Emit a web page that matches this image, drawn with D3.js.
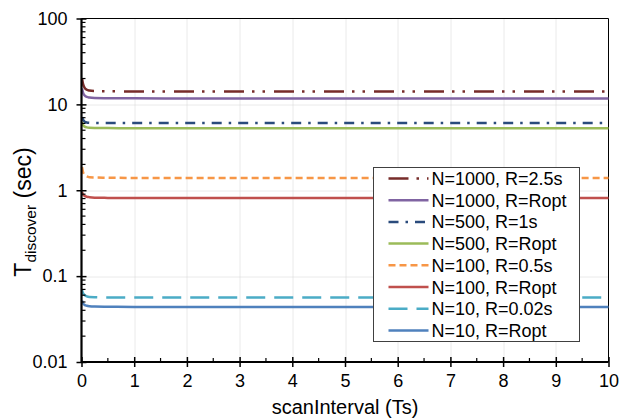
<!DOCTYPE html>
<html>
<head>
<meta charset="utf-8">
<script src="https://cdn.jsdelivr.net/npm/d3@7"></script>
<style>
  html, body { margin: 0; padding: 0; background: #fff; }
  svg { display: block; font-family: "Liberation Sans", Arial, sans-serif; }
</style>
</head>
<body>
<div id="chart"></div>
<script>
// scanInterval (Ts) sample points
const scanIntervals = [0.01, 0.03, 0.06, 0.1, 0.15, 0.25, 0.5, 1, 2, 3, 4, 5, 6, 7, 8, 9, 10];

// T_discover (sec) per series
const n1000R25 = [20, 17.2, 15.6, 14.8, 14.5, 14.3, 14.2, 14.15, 14.1, 14.1, 14.1, 14.1, 14.1, 14.1, 14.1, 14.1, 14.1];
const n1000Ropt = [15.3, 13.6, 12.7, 12.2, 12.0, 11.85, 11.8, 11.75, 11.7, 11.7, 11.7, 11.7, 11.7, 11.7, 11.7, 11.7, 11.7];
const n500R1 = [7.1, 6.6, 6.3, 6.15, 6.1, 6.07, 6.05, 6.05, 6.05, 6.05, 6.05, 6.05, 6.05, 6.05, 6.05, 6.05, 6.05];
const n500Ropt = [6.2, 5.75, 5.5, 5.4, 5.35, 5.32, 5.3, 5.28, 5.27, 5.27, 5.27, 5.27, 5.27, 5.27, 5.27, 5.27, 5.27];
const n100R05 = [1.86, 1.62, 1.5, 1.45, 1.42, 1.41, 1.4, 1.39, 1.39, 1.39, 1.39, 1.39, 1.39, 1.39, 1.39, 1.39, 1.39];
const n100Ropt = [0.95, 0.89, 0.86, 0.84, 0.83, 0.82, 0.815, 0.81, 0.81, 0.81, 0.81, 0.81, 0.81, 0.81, 0.81, 0.81, 0.81];
const n10R002 = [0.069, 0.063, 0.06, 0.058, 0.057, 0.0567, 0.0565, 0.0564, 0.0564, 0.0564, 0.0564, 0.0564, 0.0564, 0.0564, 0.0564, 0.0564, 0.0564];
const n10Ropt = [0.052, 0.048, 0.0462, 0.0452, 0.0446, 0.0442, 0.044, 0.0438, 0.0438, 0.0438, 0.0438, 0.0438, 0.0438, 0.0438, 0.0438, 0.0438, 0.0438];

const seriesNames = ['N=1000, R=2.5s', 'N=1000, R=Ropt', 'N=500, R=1s', 'N=500, R=Ropt',
  'N=100, R=0.5s', 'N=100, R=Ropt', 'N=10, R=0.02s', 'N=10, R=Ropt'];
const seriesValues = [n1000R25, n1000Ropt, n500R1, n500Ropt, n100R05, n100Ropt, n10R002, n10Ropt];
const seriesColors = ['#772c2a', '#8064a2', '#2a4b7c', '#9bbb59', '#f79646', '#c0504d', '#4bacc6', '#4f81bd'];
const seriesDash = ['20,8,2.5,8,2.5,9', null, '10,7,2.5,7', null, '7,4', null, '19,9', null];

const xTicks = [0, 1, 2, 3, 4, 5, 6, 7, 8, 9, 10];
const yTicks = [0.01, 0.1, 1, 10, 100];

const width = 619, height = 420;
const margin = { top: 18.5, right: 10.5, bottom: 58, left: 81.5 };
const graphWidth = width - margin.left - margin.right;
const graphHeight = height - margin.top - margin.bottom;

const svg = d3.select('#chart').append('svg')
  .attr('width', width)
  .attr('height', height);

const graph = svg.append('g').attr('transform', `translate(${margin.left}, ${margin.top})`);

const xScale = d3.scaleLinear().domain([0, 10]).range([0, graphWidth]);
const yScale = d3.scaleLog().domain([0.01, 100]).range([graphHeight, 0]);

drawGrid();
drawLines();
drawAxes();
drawLegend();
drawTitles();

function drawGrid() {
  graph.append('g')
    .selectAll('line')
    .data(xTicks.slice(1, -1))
    .enter().append('line')
    .attr('x1', d => Math.round(xScale(d)) + 0.5)
    .attr('x2', d => Math.round(xScale(d)) + 0.5)
    .attr('y1', 0).attr('y2', graphHeight)
    .attr('stroke', '#d4d4d4')
    .attr('stroke-dasharray', '1,1');

  graph.append('g')
    .selectAll('line')
    .data(yTicks.slice(1, -1))
    .enter().append('line')
    .attr('y1', d => Math.round(yScale(d)) + 0.5)
    .attr('y2', d => Math.round(yScale(d)) + 0.5)
    .attr('x1', 0).attr('x2', graphWidth)
    .attr('stroke', '#d4d4d4')
    .attr('stroke-dasharray', '1,1');

  // top and right border of the plot area
  graph.append('path')
    .attr('d', `M0,0H${graphWidth}V${graphHeight}`)
    .attr('fill', 'none')
    .attr('stroke', '#000')
    .attr('stroke-width', 1);
}

function drawLines() {
  const line = d3.line()
    .x((d, i) => xScale(scanIntervals[i]))
    .y(d => yScale(d))
    .curve(d3.curveMonotoneX);

  graph.append('g')
    .selectAll('path')
    .data(seriesValues)
    .enter().append('path')
    .attr('d', d => line(d))
    .attr('fill', 'none')
    .attr('stroke', (d, i) => seriesColors[i])
    .attr('stroke-width', 2.5)
    .attr('stroke-dasharray', (d, i) => seriesDash[i]);
}

function drawAxes() {
  const minorY = [];
  for (let e = -2; e < 2; e++) {
    for (let k = 2; k <= 9; k++) minorY.push(k * Math.pow(10, e));
  }
  const minorX = d3.range(0, 10).map(d => d + 0.5);

  // minor ticks inside
  graph.append('g')
    .selectAll('line')
    .data(minorY)
    .enter().append('line')
    .attr('x1', 0).attr('x2', 4)
    .attr('y1', d => yScale(d)).attr('y2', d => yScale(d))
    .attr('stroke', '#000').attr('stroke-width', 1.2);

  graph.append('g')
    .selectAll('line')
    .data(minorX)
    .enter().append('line')
    .attr('y1', graphHeight).attr('y2', graphHeight - 4)
    .attr('x1', d => xScale(d)).attr('x2', d => xScale(d))
    .attr('stroke', '#000').attr('stroke-width', 1.2);

  // major ticks cross the axis
  const yAxis = d3.axisLeft(yScale)
    .tickValues(yTicks)
    .tickFormat(d => d3.format('~g')(d))
    .tickSizeInner(5)
    .tickSizeOuter(0)
    .tickPadding(8);

  const yG = graph.append('g').call(yAxis);
  yG.select('.domain').remove();
  yG.selectAll('.tick line').attr('x2', -5).attr('x1', 5).attr('stroke-width', 1.5);
  yG.selectAll('.tick text')
    .attr('x', -14)
    .style('font-size', '18px')
    .style('font-family', '"Liberation Sans", Arial, sans-serif')
    .attr('fill', '#000');

  const xAxis = d3.axisBottom(xScale)
    .tickValues(xTicks)
    .tickSizeInner(5)
    .tickSizeOuter(0)
    .tickPadding(8);

  const xG = graph.append('g').attr('transform', `translate(0, ${graphHeight})`).call(xAxis);
  xG.select('.domain').remove();
  xG.selectAll('.tick line').attr('y1', -5).attr('y2', 5).attr('stroke-width', 1.5);
  xG.selectAll('.tick text')
    .attr('y', 12)
    .style('font-size', '18px')
    .style('font-family', '"Liberation Sans", Arial, sans-serif')
    .attr('fill', '#000');

  // heavy left and bottom axis lines
  graph.append('path')
    .attr('d', `M0,0V${graphHeight}H${graphWidth}`)
    .attr('fill', 'none')
    .attr('stroke', '#000')
    .attr('stroke-width', 2.2);
}

function drawLegend() {
  const lx = 373.5 - margin.left, ly = 167.5 - margin.top;
  const rowH = 21.7;
  const legend = graph.append('g').attr('transform', `translate(${lx}, ${ly})`);

  legend.append('rect')
    .attr('width', 206)
    .attr('height', 174)
    .attr('fill', '#fff')
    .attr('stroke', '#404040')
    .attr('stroke-width', 1);

  const rows = legend.selectAll('g.row')
    .data(seriesNames)
    .enter().append('g')
    .attr('class', 'row')
    .attr('transform', (d, i) => `translate(0, ${11 + i * rowH})`);

  rows.append('line')
    .attr('x1', 15).attr('x2', 55)
    .attr('stroke', (d, i) => seriesColors[i])
    .attr('stroke-width', 2.5)
    .attr('stroke-dasharray', (d, i) => seriesDash[i]);

  rows.append('text')
    .attr('x', 58)
    .attr('y', 6.5)
    .style('font-size', '18px')
    .attr('fill', '#000')
    .text(d => d);
}

function drawTitles() {
  svg.append('text')
    .attr('x', margin.left + graphWidth / 2)
    .attr('y', 414)
    .attr('text-anchor', 'middle')
    .style('font-size', '20px')
    .attr('fill', '#000')
    .text('scanInterval (Ts)');

  const yTitle = svg.append('text')
    .attr('transform', `translate(31, 212) rotate(-90)`)
    .attr('text-anchor', 'middle')
    .attr('fill', '#000');
  yTitle.append('tspan').style('font-size', '23px').text('T');
  yTitle.append('tspan').style('font-size', '15.5px').attr('dy', 5).text('discover');
  yTitle.append('tspan').style('font-size', '23px').attr('dy', -5).text(' (sec)');
}
</script>
</body>
</html>
